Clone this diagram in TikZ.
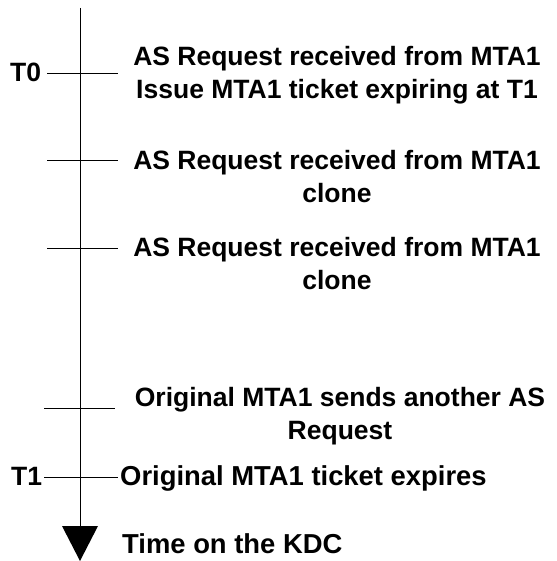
\documentclass[tikz,border=0pt]{standalone}
\usepackage{fontspec}
\setmainfont{Liberation Sans}
\begin{document}
\begin{tikzpicture}[x=1pt,y=-1pt,
  lbl/.style={font=\fontsize{26.5}{33}\selectfont\bfseries, inner sep=0pt, align=center},
  biglbl/.style={lbl, font=\fontsize{27.4}{33}\selectfont\bfseries},
  tick/.style={line width=1pt, black}]
\useasboundingbox (0,0) rectangle (556,561);
% axis
\coordinate (top) at (80,8);
\coordinate (base) at (80,526);
\coordinate (bl) at (62,526);
\coordinate (br) at (98,526);
\coordinate (tip) at (80,561);
\draw[tick] (top) -- (base);
\fill[black] (bl) -- (br) -- (tip) -- cycle;
% ticks
\coordinate (t0a) at (47,74);  \coordinate (t0b) at (118,74);
\coordinate (t2a) at (47,161); \coordinate (t2b) at (118,161);
\coordinate (t3a) at (47,248); \coordinate (t3b) at (118,248);
\coordinate (t4a) at (44,408); \coordinate (t4b) at (115,408);
\coordinate (t1a) at (44,477); \coordinate (t1b) at (118,477);
\draw[tick] (t0a) -- (t0b);
\draw[tick] (t2a) -- (t2b);
\draw[tick] (t3a) -- (t3b);
\draw[tick] (t4a) -- (t4b);
\draw[tick] (t1a) -- (t1b);
% labels
\node[lbl, anchor=base west] (T0) at (10,82) {T0};
\node[lbl, anchor=base west] (T1) at (11,485) {T1};
\node[lbl, anchor=north] (e1) at (337,46.5) {AS Request received from MTA1\\Issue MTA1 ticket expiring at T1};
\node[lbl, anchor=north] (e2) at (337,150.5) {AS Request received from MTA1\\clone};
\node[lbl, anchor=north] (e3) at (337,237.5) {AS Request received from MTA1\\clone};
\node[lbl, anchor=north] (e4) at (340,387.5) {Original MTA1 sends another AS\\Request};
\node[biglbl, anchor=base west] (e5) at (120,485) {Original MTA1 ticket expires};
\node[biglbl, anchor=base west] (kdc) at (122,553) {Time on the KDC};
\end{tikzpicture}
\end{document}
